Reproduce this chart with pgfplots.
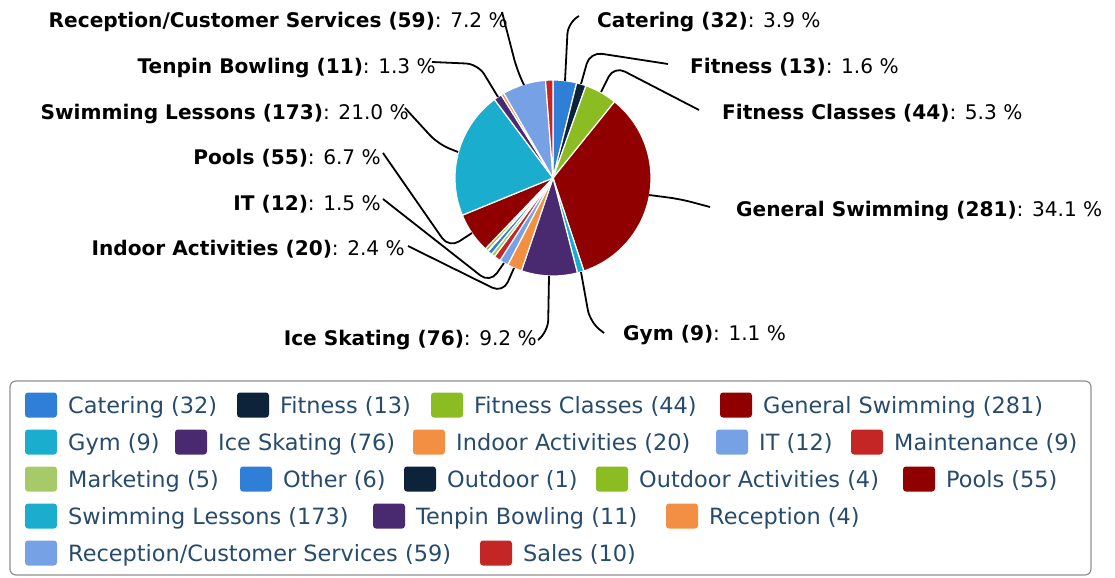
\documentclass[border=0pt]{standalone}
\usepackage{pgfplots}
\pgfplotsset{compat=1.18}
\usepackage{pgfplotstable}
\usepackage{fontspec}
\setmainfont{DejaVu Sans}

\definecolor{pc0}{HTML}{2F7ED8}
\definecolor{pc1}{HTML}{0D233A}
\definecolor{pc2}{HTML}{8BBC21}
\definecolor{pc3}{HTML}{910000}
\definecolor{pc4}{HTML}{1AADCE}
\definecolor{pc5}{HTML}{492970}
\definecolor{pc6}{HTML}{F28F43}
\definecolor{pc7}{HTML}{77A1E5}
\definecolor{pc8}{HTML}{C42525}
\definecolor{pc9}{HTML}{A6C96A}
\definecolor{pc10}{HTML}{2F7ED8}
\definecolor{pc11}{HTML}{0D233A}
\definecolor{pc12}{HTML}{8BBC21}
\definecolor{pc13}{HTML}{910000}
\definecolor{pc14}{HTML}{1AADCE}
\definecolor{pc15}{HTML}{492970}
\definecolor{pc16}{HTML}{F28F43}
\definecolor{pc17}{HTML}{77A1E5}
\definecolor{pc18}{HTML}{C42525}
\definecolor{legtext}{HTML}{274B6D}
\definecolor{legborder}{HTML}{909090}

% Catering, Fitness, Fitness Classes, General Swimming, Gym, Ice Skating,
% Indoor Activities, IT, Maintenance, Marketing, Other, Outdoor,
% Outdoor Activities, Pools, Swimming Lessons, Tenpin Bowling, Reception,
% Reception/Customer Services, Sales
\pgfplotstableread{
idx value
0 32
1 13
2 44
3 281
4 9
5 76
6 20
7 12
8 9
9 5
10 6
11 1
12 4
13 55
14 173
15 11
16 4
17 59
18 10
}\piedata

\newcommand{\lblfont}{\fontsize{20.2}{24}\selectfont}
\newcommand{\legfont}{\fontsize{22.5}{26}\selectfont}

\newcommand{\legitem}[4]{%
  \fill[#3, rounded corners=3bp] (axis cs:#1,#2) ++(0bp,-12.5bp) rectangle ++(32bp,25bp);
  \node[anchor=base west, inner sep=0pt, text=legtext, font=\legfont, xshift=43bp, yshift=-8bp] at (axis cs:#1,#2) {#4};
}
\newcommand{\lblL}[3]{%
  \node[anchor=base east, inner sep=0pt, font=\lblfont, yshift=-7.5bp] at (axis cs:#1,#2) {#3};
}
\newcommand{\lblR}[3]{%
  \node[anchor=base west, inner sep=0pt, font=\lblfont, yshift=-7.5bp] at (axis cs:#1,#2) {#3};
}

\begin{document}
\begin{tikzpicture}
\pgfplotstablegetrowsof{\piedata}
\pgfmathtruncatemacro{\pielast}{\pgfplotsretval-1}
\gdef\pietotal{0}
\foreach \i in {0,...,\pielast}{%
  \pgfplotstablegetelem{\i}{value}\of{\piedata}%
  \pgfmathsetmacro{\pietmp}{\pietotal+\pgfplotsretval}%
  \xdef\pietotal{\pietmp}}
\gdef\piecum{0}
\foreach \i in {0,...,\pielast}{%
  \pgfplotstablegetelem{\i}{value}\of{\piedata}%
  \pgfmathsetmacro{\pieC}{\piecum+\pgfplotsretval}%
  \pgfmathsetmacro{\pieA}{\piecum/\pietotal*360}%
  \pgfmathsetmacro{\pieB}{\pieC/\pietotal*360}%
  \expandafter\xdef\csname pieA\i\endcsname{\pieA}%
  \expandafter\xdef\csname pieB\i\endcsname{\pieB}%
  \xdef\piecum{\pieC}}

\begin{axis}[
  width=1115bp, height=578bp, scale only axis,
  xmin=0, xmax=1115, ymin=0, ymax=578, y dir=reverse,
  hide axis, clip=false]

\pgfplotsinvokeforeach{0,...,18}{%
  \addplot[fill=pc#1, draw=white, line width=1.2bp, samples=60,
    domain=\csname pieA#1\endcsname:\csname pieB#1\endcsname]
    ({553+98*sin(x)}, {178-98*cos(x)}) -- (axis cs:553,178) -- cycle;
}

% connectors
\begin{scope}[black, line width=1.8bp, rounded corners=12bp]
\draw (axis cs:502,12) -- (axis cs:517,70) -- (axis cs:524,85);
\draw (axis cs:432,62) -- (axis cs:478,64) -- (axis cs:498,97);
\draw (axis cs:405,108) -- (axis cs:438,144) -- (axis cs:458,152);
\draw (axis cs:383,153) -- (axis cs:449,248) -- (axis cs:472,233);
\draw (axis cs:383,199) -- (axis cs:490,283) -- (axis cs:504,263);
\draw (axis cs:408,246) -- (axis cs:503,293) -- (axis cs:514,268);
\draw (axis cs:538,340) -- (axis cs:548,332) -- (axis cs:549,276);
\draw (axis cs:604,333) -- (axis cs:590,322) -- (axis cs:581,272);
\draw (axis cs:710,207) -- (axis cs:680,199) -- (axis cs:649,195);
\draw (axis cs:699,110) -- (axis cs:614,66) -- (axis cs:601,92);
\draw (axis cs:668,64) -- (axis cs:590,52) -- (axis cs:581,84);
\draw (axis cs:579,16) -- (axis cs:568,22) -- (axis cs:565,81);
\end{scope}

% data labels
\lblL{508}{20}{\textbf{Reception/Customer Services (59)}: 7.2 \%}
\lblL{436}{66}{\textbf{Tenpin Bowling (11)}: 1.3 \%}
\lblL{409}{112}{\textbf{Swimming Lessons (173)}: 21.0 \%}
\lblL{381}{157}{\textbf{Pools (55)}: 6.7 \%}
\lblL{381}{203}{\textbf{IT (12)}: 1.5 \%}
\lblL{405}{248}{\textbf{Indoor Activities (20)}: 2.4 \%}
\lblL{537}{338}{\textbf{Ice Skating (76)}: 9.2 \%}
\lblR{597}{20}{\textbf{Catering (32)}: 3.9 \%}
\lblR{690}{66}{\textbf{Fitness (13)}: 1.6 \%}
\lblR{722}{112}{\textbf{Fitness Classes (44)}: 5.3 \%}
\lblR{736}{209}{\textbf{General Swimming (281)}: 34.1 \%}
\lblR{623}{333}{\textbf{Gym (9)}: 1.1 \%}

% legend
\draw[legborder, line width=1.2bp, rounded corners=6bp] (axis cs:10,381) rectangle (axis cs:1091,575);
\legitem{25}{405}{pc0}{Catering (32)}
\legitem{237}{405}{pc1}{Fitness (13)}
\legitem{431}{405}{pc2}{Fitness Classes (44)}
\legitem{720}{405}{pc3}{General Swimming (281)}
\legitem{25}{442}{pc4}{Gym (9)}
\legitem{175}{442}{pc5}{Ice Skating (76)}
\legitem{413}{442}{pc6}{Indoor Activities (20)}
\legitem{716}{442}{pc7}{IT (12)}
\legitem{851}{442}{pc8}{Maintenance (9)}
\legitem{25}{479}{pc9}{Marketing (5)}
\legitem{240}{479}{pc10}{Other (6)}
\legitem{404}{479}{pc11}{Outdoor (1)}
\legitem{596}{479}{pc12}{Outdoor Activities (4)}
\legitem{903}{479}{pc13}{Pools (55)}
\legitem{25}{516}{pc14}{Swimming Lessons (173)}
\legitem{373}{516}{pc15}{Tenpin Bowling (11)}
\legitem{666}{516}{pc16}{Reception (4)}
\legitem{25}{553}{pc17}{Reception/Customer Services (59)}
\legitem{480}{553}{pc18}{Sales (10)}
\end{axis}
\pgfresetboundingbox
\path[use as bounding box] (0,0) rectangle (1115bp,578bp);
\end{tikzpicture}
\end{document}
